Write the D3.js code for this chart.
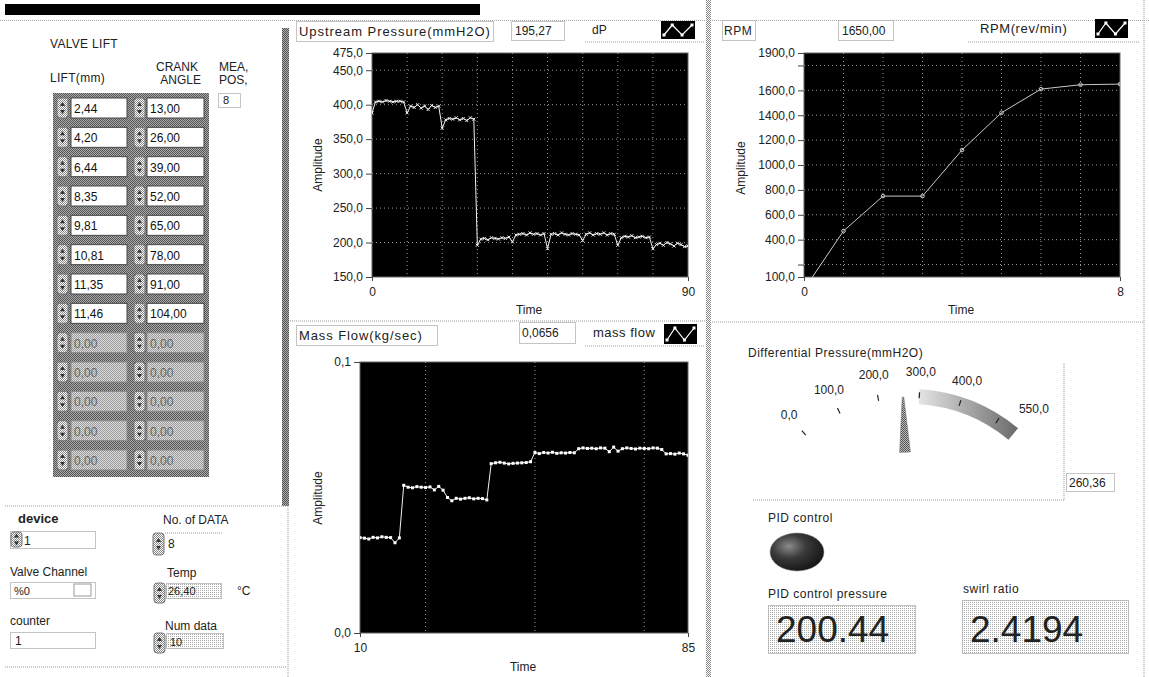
<!DOCTYPE html>
<html>
<head>
<meta charset="utf-8">
<script src="https://cdn.jsdelivr.net/npm/d3@7"></script>
<style>
body { margin: 0; background: #fff; }
svg { display: block; font-family: "Liberation Sans", Arial, sans-serif; }
text { fill: #222; }
</style>
</head>
<body>
<script>
// ---- values ----
var liftMm = [2.44, 4.20, 6.44, 8.35, 9.81, 10.81, 11.35, 11.46, 0, 0, 0, 0, 0];
var crankAngle = [13, 26, 39, 52, 65, 78, 91, 104, 0, 0, 0, 0, 0];
var activeRows = 8;

// upstream pressure waveform, t0 = 0, dt = 1
var upT0 = 0;
var upstream = [388, 404, 405, 404, 406, 405, 404, 405, 405, 404,
  388, 398, 396, 400, 395, 398, 393, 399, 396, 398,
  366, 378, 380, 379, 381, 378, 380, 377, 381, 379,
  196, 205, 206, 204, 207, 206, 205, 207, 206, 208,
  201, 211, 212, 213, 211, 214, 212, 213, 211, 213,
  191, 212, 213, 211, 214, 212, 211, 213, 212, 211,
  203, 212, 214, 211, 213, 212, 214, 211, 213, 212,
  196, 207, 209, 208, 210, 207, 208, 209, 207, 208,
  191, 197, 199, 196, 200, 198, 195, 199, 197, 194,
  195];
var upYTicks = [150, 200, 250, 300, 350, 400, 450, 475];
var upXTicks = [0, 90];
var upGridX = [10, 20, 30, 40, 50, 60, 70, 80];
var upGridY = [200, 250, 300, 350, 400, 450];

// rpm, t0 = 0, dt = 1
var rpm = [0, 470, 750, 750, 1120, 1420, 1610, 1645, 1650];
var rpmYTicks = [100, 200, 400, 600, 800, 1000, 1200, 1400, 1600, 1800, 1900];
var rpmYHidden = [200, 1800];
var rpmXTicks = [0, 8];
var rpmGridX = [1, 2, 3, 4, 5, 6, 7];
var rpmGridY = [200, 400, 600, 800, 1000, 1200, 1400, 1600, 1800];

// mass flow waveform, t0 = 10, dt = 1
var massT0 = 10;
var massFlow = [0.0352, 0.0350, 0.0347, 0.0353, 0.0351, 0.0355, 0.0353, 0.0352, 0.0333, 0.0351,
  0.0545, 0.0538, 0.0536, 0.0540, 0.0538, 0.0537, 0.0539, 0.0528, 0.0541, 0.0527,
  0.0500, 0.0488, 0.0497, 0.0494, 0.0497, 0.0499, 0.0495, 0.0497, 0.0496, 0.0491,
  0.0625, 0.0628, 0.0630, 0.0627, 0.0624, 0.0626, 0.0627, 0.0628, 0.0629, 0.0632,
  0.0666, 0.0662, 0.0666, 0.0664, 0.0667, 0.0663, 0.0665, 0.0664, 0.0666, 0.0665,
  0.0680, 0.0683, 0.0681, 0.0682, 0.0680, 0.0683, 0.0682, 0.0669, 0.0686, 0.0671,
  0.0680, 0.0683, 0.0681, 0.0679, 0.0682, 0.0681, 0.0680, 0.0683, 0.0682, 0.0677,
  0.0661, 0.0662, 0.0660, 0.0664, 0.0661, 0.0656];
var massYTicks = [0, 0.1];
var massXTicks = [10, 85];
var massGridX = [25, 50, 75];

// gauge
var gaugeLabels = [0, 100, 200, 300, 400, 550];
var gaugeTicks = [0, 100, 200, 300, 400, 500];
var gaugeBand = [300, 550];
var gaugeValue = 260.36;

var readUp = 195.27, readRpm = 1650.00, readMass = 0.0656;
var pidPressure = 200.44, swirlRatio = 2.4194;
var noOfData = 8, temp = 26.40, numData = 10;

// ---- setup ----
var loc = d3.formatLocale({decimal: ",", thousands: "", grouping: [3], currency: ["", ""]});
var f1 = loc.format(".1f"), f2 = loc.format(".2f"), f4 = loc.format(".4f");

var svg = d3.select('body').append('svg')
  .attr('width', 1149)
  .attr('height', 677);

var defs = svg.append('defs');
function dither(id, bg, fg, full) {
  var p = defs.append('pattern').attr('id', id)
    .attr('width', 2).attr('height', 2)
    .attr('patternUnits', 'userSpaceOnUse');
  p.append('rect').attr('width', 2).attr('height', 2).attr('fill', bg);
  p.append('rect').attr('width', 1).attr('height', 1).attr('fill', fg);
  if (full) p.append('rect').attr('x', 1).attr('y', 1).attr('width', 1).attr('height', 1).attr('fill', fg);
}
dither('dLight', '#fff', '#aaa', false);
dither('dMid', '#fff', '#888', true);
dither('dDark', '#aaa', '#555', true);
dither('dBox', '#ddd', '#999', true);
dither('dNeedle', '#bbb', '#555', true);

var band = defs.append('linearGradient').attr('id', 'bandGrad')
  .attr('x1', 0).attr('x2', 1).attr('y1', 0).attr('y2', 0);
band.append('stop').attr('offset', '0%').attr('stop-color', '#e4e4e4');
band.append('stop').attr('offset', '100%').attr('stop-color', '#6a6a6a');

var led = defs.append('radialGradient').attr('id', 'led')
  .attr('cx', '35%').attr('cy', '35%').attr('r', '70%');
led.append('stop').attr('offset', '0%').attr('stop-color', '#8a8a8a');
led.append('stop').attr('offset', '45%').attr('stop-color', '#3a3a3a');
led.append('stop').attr('offset', '100%').attr('stop-color', '#151515');

function dotLine(x1, y1, x2, y2, col) {
  svg.append('line')
    .attr('x1', x1).attr('y1', y1).attr('x2', x2).attr('y2', y2)
    .attr('stroke', col || '#999')
    .attr('stroke-dasharray', '1,1');
}
function label(x, y, s, size, anchor, extra) {
  var t = svg.append('text')
    .attr('x', x).attr('y', y)
    .attr('font-size', size || 12)
    .attr('text-anchor', anchor || 'start')
    .text(s);
  if (extra) t.attr('letter-spacing', extra);
  return t;
}
function box(x, y, w, h, fill) {
  svg.append('rect')
    .attr('x', x + 0.5).attr('y', y + 0.5).attr('width', w).attr('height', h)
    .attr('fill', fill || '#fff')
    .attr('stroke', '#888')
    .attr('stroke-dasharray', '1,1');
}
function spinner(x, y, h) {
  svg.append('rect')
    .attr('x', x).attr('y', y).attr('width', 11).attr('height', h)
    .attr('rx', 3).attr('fill', 'url(#dMid)').attr('stroke', '#777');
  svg.append('path')
    .attr('d', 'M' + (x + 3) + ',' + (y + h / 2 - 2) + 'l2.5,-4l2.5,4z' +
      'M' + (x + 3) + ',' + (y + h / 2 + 2) + 'l2.5,4l2.5,-4z')
    .attr('fill', '#333');
}
function legendIcon(x, y, w, h) {
  svg.append('rect').attr('x', x).attr('y', y).attr('width', w).attr('height', h).attr('fill', '#000');
  var pts = [[x + 3, y + h - 4], [x + w * 0.33, y + 4], [x + w * 0.62, y + h - 4], [x + w - 3, y + 4]];
  svg.append('path').attr('d', d3.line()(pts)).attr('fill', 'none').attr('stroke', '#fff').attr('stroke-width', 1.2);
  svg.selectAll(null).data(pts).enter().append('rect')
    .attr('x', function(d) { return d[0] - 1.5; })
    .attr('y', function(d) { return d[1] - 1.5; })
    .attr('width', 3).attr('height', 3).attr('fill', '#fff');
}

// ---- frame / dividers ----
svg.append('rect').attr('x', 5).attr('y', 4).attr('width', 475).attr('height', 11).attr('fill', '#000');
svg.append('rect').attr('x', 0).attr('y', 19).attr('width', 1149).attr('height', 2).attr('fill', 'url(#dLight)');
svg.append('rect').attr('x', 282).attr('y', 28).attr('width', 7).attr('height', 478).attr('fill', 'url(#dDark)');
dotLine(288, 506, 288, 677);
svg.append('rect').attr('x', 706).attr('y', 0).attr('width', 5).attr('height', 677).attr('fill', 'url(#dMid)');
dotLine(1144, 0, 1144, 677);
dotLine(5, 506, 287, 506);
dotLine(5, 667, 287, 667);
dotLine(290, 321, 706, 321);
dotLine(712, 322, 1144, 322);

// ---- left panel: valve lift array ----
label(50, 48, 'VALVE LIFT', 12, 'start', 0.3);
label(50, 82, 'LIFT(mm)', 12, 'start', 0.3);
label(198, 71, 'CRANK', 12, 'end');
label(201, 84, 'ANGLE', 12, 'end');
label(219, 71, 'MEA,', 12);
label(219, 84, 'POS,', 12);
box(218, 93, 22, 14);
label(223, 104, String(activeRows), 11);

svg.append('rect').attr('x', 53).attr('y', 93).attr('width', 156).attr('height', 384).attr('fill', 'url(#dDark)');
var rowY = d3.scaleLinear().domain([0, liftMm.length - 1]).range([108, 460]);
liftMm.forEach(function(v, i) {
  var cy = rowY(i), on = i < activeRows;
  spinner(57, cy - 10, 20);
  spinner(134, cy - 10, 20);
  svg.append('rect').attr('x', 71).attr('y', cy - 10).attr('width', 56).attr('height', 20)
    .attr('fill', on ? '#fff' : 'url(#dBox)').attr('stroke', on ? '#444' : '#888');
  svg.append('rect').attr('x', 147).attr('y', cy - 10).attr('width', 57).attr('height', 20)
    .attr('fill', on ? '#fff' : 'url(#dBox)').attr('stroke', on ? '#444' : '#888');
  label(74, cy + 5, f2(v), 12).style('fill', on ? '#111' : '#666');
  label(150, cy + 5, f2(crankAngle[i]), 12).style('fill', on ? '#111' : '#666');
});

// ---- left panel: bottom controls ----
label(18, 523, 'device', 13).attr('font-weight', 'bold');
box(10, 531, 85, 17);
spinner(11, 532, 15);
label(24, 545, '1', 12);
label(10, 576, 'Valve Channel', 12);
box(10, 582, 85, 16);
label(14, 595, '%0', 11);
svg.append('rect').attr('x', 74).attr('y', 584).attr('width', 17).attr('height', 12).attr('fill', '#fff').attr('stroke', '#999');
label(10, 625, 'counter', 12);
box(10, 632, 85, 16);
label(15, 645, '1', 12);

label(163, 524, 'No. of DATA', 12);
spinner(153, 533, 22);
dotLine(165, 533, 222, 533);
label(168, 548, String(noOfData), 12);
label(167, 577, 'Temp', 12);
spinner(154, 583, 20);
box(166, 583, 55, 15, 'url(#dLight)');
label(168, 595, f2(temp), 11);
label(237, 595, '\u00b0C', 12);
label(165, 630, 'Num data', 12);
spinner(154, 633, 20);
box(166, 633, 57, 15, 'url(#dLight)');
label(170, 646, String(numData), 11);

// ---- waveform chart helper ----
function chart(o) {
  var x = d3.scaleLinear().domain(o.xDomain).range([o.left, o.right]);
  var y = d3.scaleLinear().domain(o.yDomain).range([o.bottom, o.top]);
  var g = svg.append('g');
  g.append('rect')
    .attr('x', o.left).attr('y', o.top)
    .attr('width', o.right - o.left).attr('height', o.bottom - o.top)
    .attr('fill', '#000').attr('stroke', '#666');
  g.selectAll('.gx').data(o.gridX || []).enter().append('line')
    .attr('x1', function(d) { return x(d); }).attr('x2', function(d) { return x(d); })
    .attr('y1', o.top).attr('y2', o.bottom)
    .attr('stroke', '#9a9a9a').attr('stroke-dasharray', '1,3');
  g.selectAll('.gy').data(o.gridY || []).enter().append('line')
    .attr('x1', o.left).attr('x2', o.right)
    .attr('y1', function(d) { return y(d); }).attr('y2', function(d) { return y(d); })
    .attr('stroke', '#9a9a9a').attr('stroke-dasharray', '1,3');

  var ya = g.append('g').attr('transform', 'translate(' + o.left + ',0)')
    .call(d3.axisLeft(y).tickValues(o.yTicks).tickSize(6).tickPadding(3).tickFormat(o.yFormat));
  var xa = g.append('g').attr('transform', 'translate(0,' + o.bottom + ')')
    .call(d3.axisBottom(x).tickValues(o.xTicks).tickSize(4).tickPadding(6).tickFormat(d3.format('d')));
  [ya, xa].forEach(function(a) {
    a.select('.domain').remove();
    a.selectAll('line').attr('stroke', '#444');
    a.selectAll('text').attr('font-size', 12).attr('fill', '#222')
      .attr('font-family', '"Liberation Sans", Arial, sans-serif');
  });

  var clipId = 'clip' + o.id;
  defs.append('clipPath').attr('id', clipId).append('rect')
    .attr('x', o.left).attr('y', o.top)
    .attr('width', o.right - o.left).attr('height', o.bottom - o.top);
  var pts = o.data.map(function(v, i) { return [x(o.t0 + i), y(v)]; });
  var pg = g.append('g').attr('clip-path', 'url(#' + clipId + ')');
  pg.append('path')
    .attr('d', d3.line()(pts))
    .attr('fill', 'none').attr('stroke', o.color).attr('stroke-width', 1);
  if (o.marker === 'x') {
    pg.selectAll(null).data(pts).enter().append('path')
      .attr('d', function(d) { return 'M' + (d[0] - 1.5) + ',' + (d[1] - 1.5) + 'l3,3M' + (d[0] - 1.5) + ',' + (d[1] + 1.5) + 'l3,-3'; })
      .attr('stroke', '#eee').attr('stroke-width', 1);
  } else if (o.marker === 'dot') {
    pg.selectAll(null).data(pts).enter().append('rect')
      .attr('x', function(d) { return d[0] - 1.5; }).attr('y', function(d) { return d[1] - 1.5; })
      .attr('width', 3).attr('height', 3).attr('fill', '#fff');
  } else {
    pg.selectAll(null).data(pts).enter().append('circle')
      .attr('cx', function(d) { return d[0]; }).attr('cy', function(d) { return d[1]; })
      .attr('r', 1.8).attr('fill', 'none').attr('stroke', o.color);
  }

  svg.append('text')
    .attr('x', (o.left + o.right) / 2 - 1).attr('y', o.timeY)
    .attr('text-anchor', 'middle').attr('font-size', 12).text('Time');
  svg.append('text')
    .attr('transform', 'translate(' + o.ampX + ',' + o.ampY + ') rotate(-90)')
    .attr('text-anchor', 'middle').attr('font-size', 12).text('Amplitude');
}

// ---- upstream pressure ----
box(296, 21, 197, 20);
label(299, 36, 'Upstream Pressure(mmH2O)', 13, 'start', 0.95);
box(511, 21, 53, 19);
label(515, 35, f2(readUp), 12);
label(592, 34, 'dP', 12);
dotLine(585, 42, 704, 42);
legendIcon(661, 21, 34, 18);
chart({
  id: 'up', left: 372, right: 688, top: 53, bottom: 277,
  xDomain: [0, 90], yDomain: [150, 475],
  xTicks: upXTicks, yTicks: upYTicks, yFormat: f1,
  gridX: upGridX, gridY: upGridY,
  data: upstream, t0: upT0, color: '#f2f2f2', marker: 'x',
  timeY: 314, ampX: 322, ampY: 165
});

// ---- rpm ----
box(722, 20, 33, 20);
label(724, 35, 'RPM', 12, 'start', 0.5);
box(838, 20, 55, 20);
label(842, 35, f2(readRpm), 12);
label(980, 33, 'RPM(rev/min)', 13, 'start', 0.6);
dotLine(968, 42, 1140, 42);
legendIcon(1095, 19, 33, 19);
chart({
  id: 'rpm', left: 804, right: 1120, top: 53, bottom: 277,
  xDomain: [0, 8], yDomain: [100, 1900],
  xTicks: rpmXTicks, yTicks: rpmYTicks,
  yFormat: function(d) { return rpmYHidden.indexOf(d) >= 0 ? '' : f1(d); },
  gridX: rpmGridX, gridY: rpmGridY,
  data: rpm, t0: 0, color: '#c8c8c8', marker: 'circle',
  timeY: 314, ampX: 745, ampY: 168
});

// ---- mass flow ----
box(296, 325, 141, 20);
label(299, 340, 'Mass Flow(kg/sec)', 13, 'start', 0.9);
box(519, 322, 56, 21);
label(522, 337, f4(readMass), 12);
label(593, 337, 'mass flow', 13, 'start', 0.5);
dotLine(585, 346, 704, 346);
legendIcon(664, 324, 33, 20);
chart({
  id: 'mass', left: 360, right: 688, top: 362, bottom: 633,
  xDomain: [10, 85], yDomain: [0, 0.1],
  xTicks: massXTicks, yTicks: massYTicks, yFormat: f1,
  gridX: massGridX, gridY: [],
  data: massFlow, t0: massT0, color: '#f2f2f2', marker: 'dot',
  timeY: 671, ampX: 322, ampY: 498
});

// ---- differential pressure gauge ----
label(748, 357, 'Differential Pressure(mmH2O)', 12, 'start', 0.5);
dotLine(1064, 363, 1064, 500);
dotLine(753, 500, 1064, 500);
box(1066, 473, 48, 18);
label(1069, 487, f2(gaugeValue), 12);

var gcx = 909, gcy = 560;
var ga = d3.scaleLinear().domain([0, 550]).range([-39.6, 39.6]);
function polar(v, r) {
  var a = ga(v) * Math.PI / 180;
  return [gcx + r * Math.sin(a), gcy - r * Math.cos(a)];
}
var gg = svg.append('g');
gg.append('path')
  .attr('transform', 'translate(' + gcx + ',' + gcy + ')')
  .attr('d', d3.arc()
    .innerRadius(156).outerRadius(171)
    .startAngle(ga(gaugeBand[0]) * Math.PI / 180)
    .endAngle(ga(gaugeBand[1]) * Math.PI / 180)())
  .attr('fill', 'url(#bandGrad)');
gg.selectAll('.gt').data(gaugeTicks).enter().append('line')
  .attr('x1', function(d) { return polar(d, 162)[0]; })
  .attr('y1', function(d) { return polar(d, 162)[1]; })
  .attr('x2', function(d) { return polar(d, 168)[0]; })
  .attr('y2', function(d) { return polar(d, 168)[1]; })
  .attr('stroke', '#222').attr('stroke-width', 1.2);
gg.selectAll('.gl').data(gaugeLabels).enter().append('text')
  .attr('x', function(d) { return polar(d, d === 550 ? 196 : 188)[0]; })
  .attr('y', function(d) { return polar(d, d === 550 ? 196 : 188)[1] + 4; })
  .attr('text-anchor', 'middle').attr('font-size', 12)
  .text(function(d) { return f1(d); });
var nb1 = polar(gaugeValue - 20, 108), nb2 = polar(gaugeValue + 20, 108);
var nt1 = polar(gaugeValue - 2, 163), nt2 = polar(gaugeValue + 2, 163);
gg.append('path')
  .attr('d', 'M' + nb1 + 'L' + nt1 + 'L' + nt2 + 'L' + nb2 + 'Z')
  .attr('fill', 'url(#dNeedle)').attr('stroke', '#777').attr('stroke-width', 0.5);

// ---- pid / swirl ----
label(768, 522, 'PID control', 12, 'start', 0.5);
svg.append('ellipse').attr('cx', 797).attr('cy', 552).attr('rx', 27).attr('ry', 19)
  .attr('fill', 'url(#led)').attr('stroke', '#888').attr('stroke-width', 0.5);
label(768, 598, 'PID control pressure', 12, 'start', 0.5);
box(768, 605, 147, 48, 'url(#dLight)');
label(776, 642, d3.format('.2f')(pidPressure), 37);
label(963, 593, 'swirl ratio', 12, 'start', 0.5);
box(962, 600, 166, 53, 'url(#dLight)');
label(970, 642, d3.format('.4f')(swirlRatio), 37);
</script>
</body>
</html>
